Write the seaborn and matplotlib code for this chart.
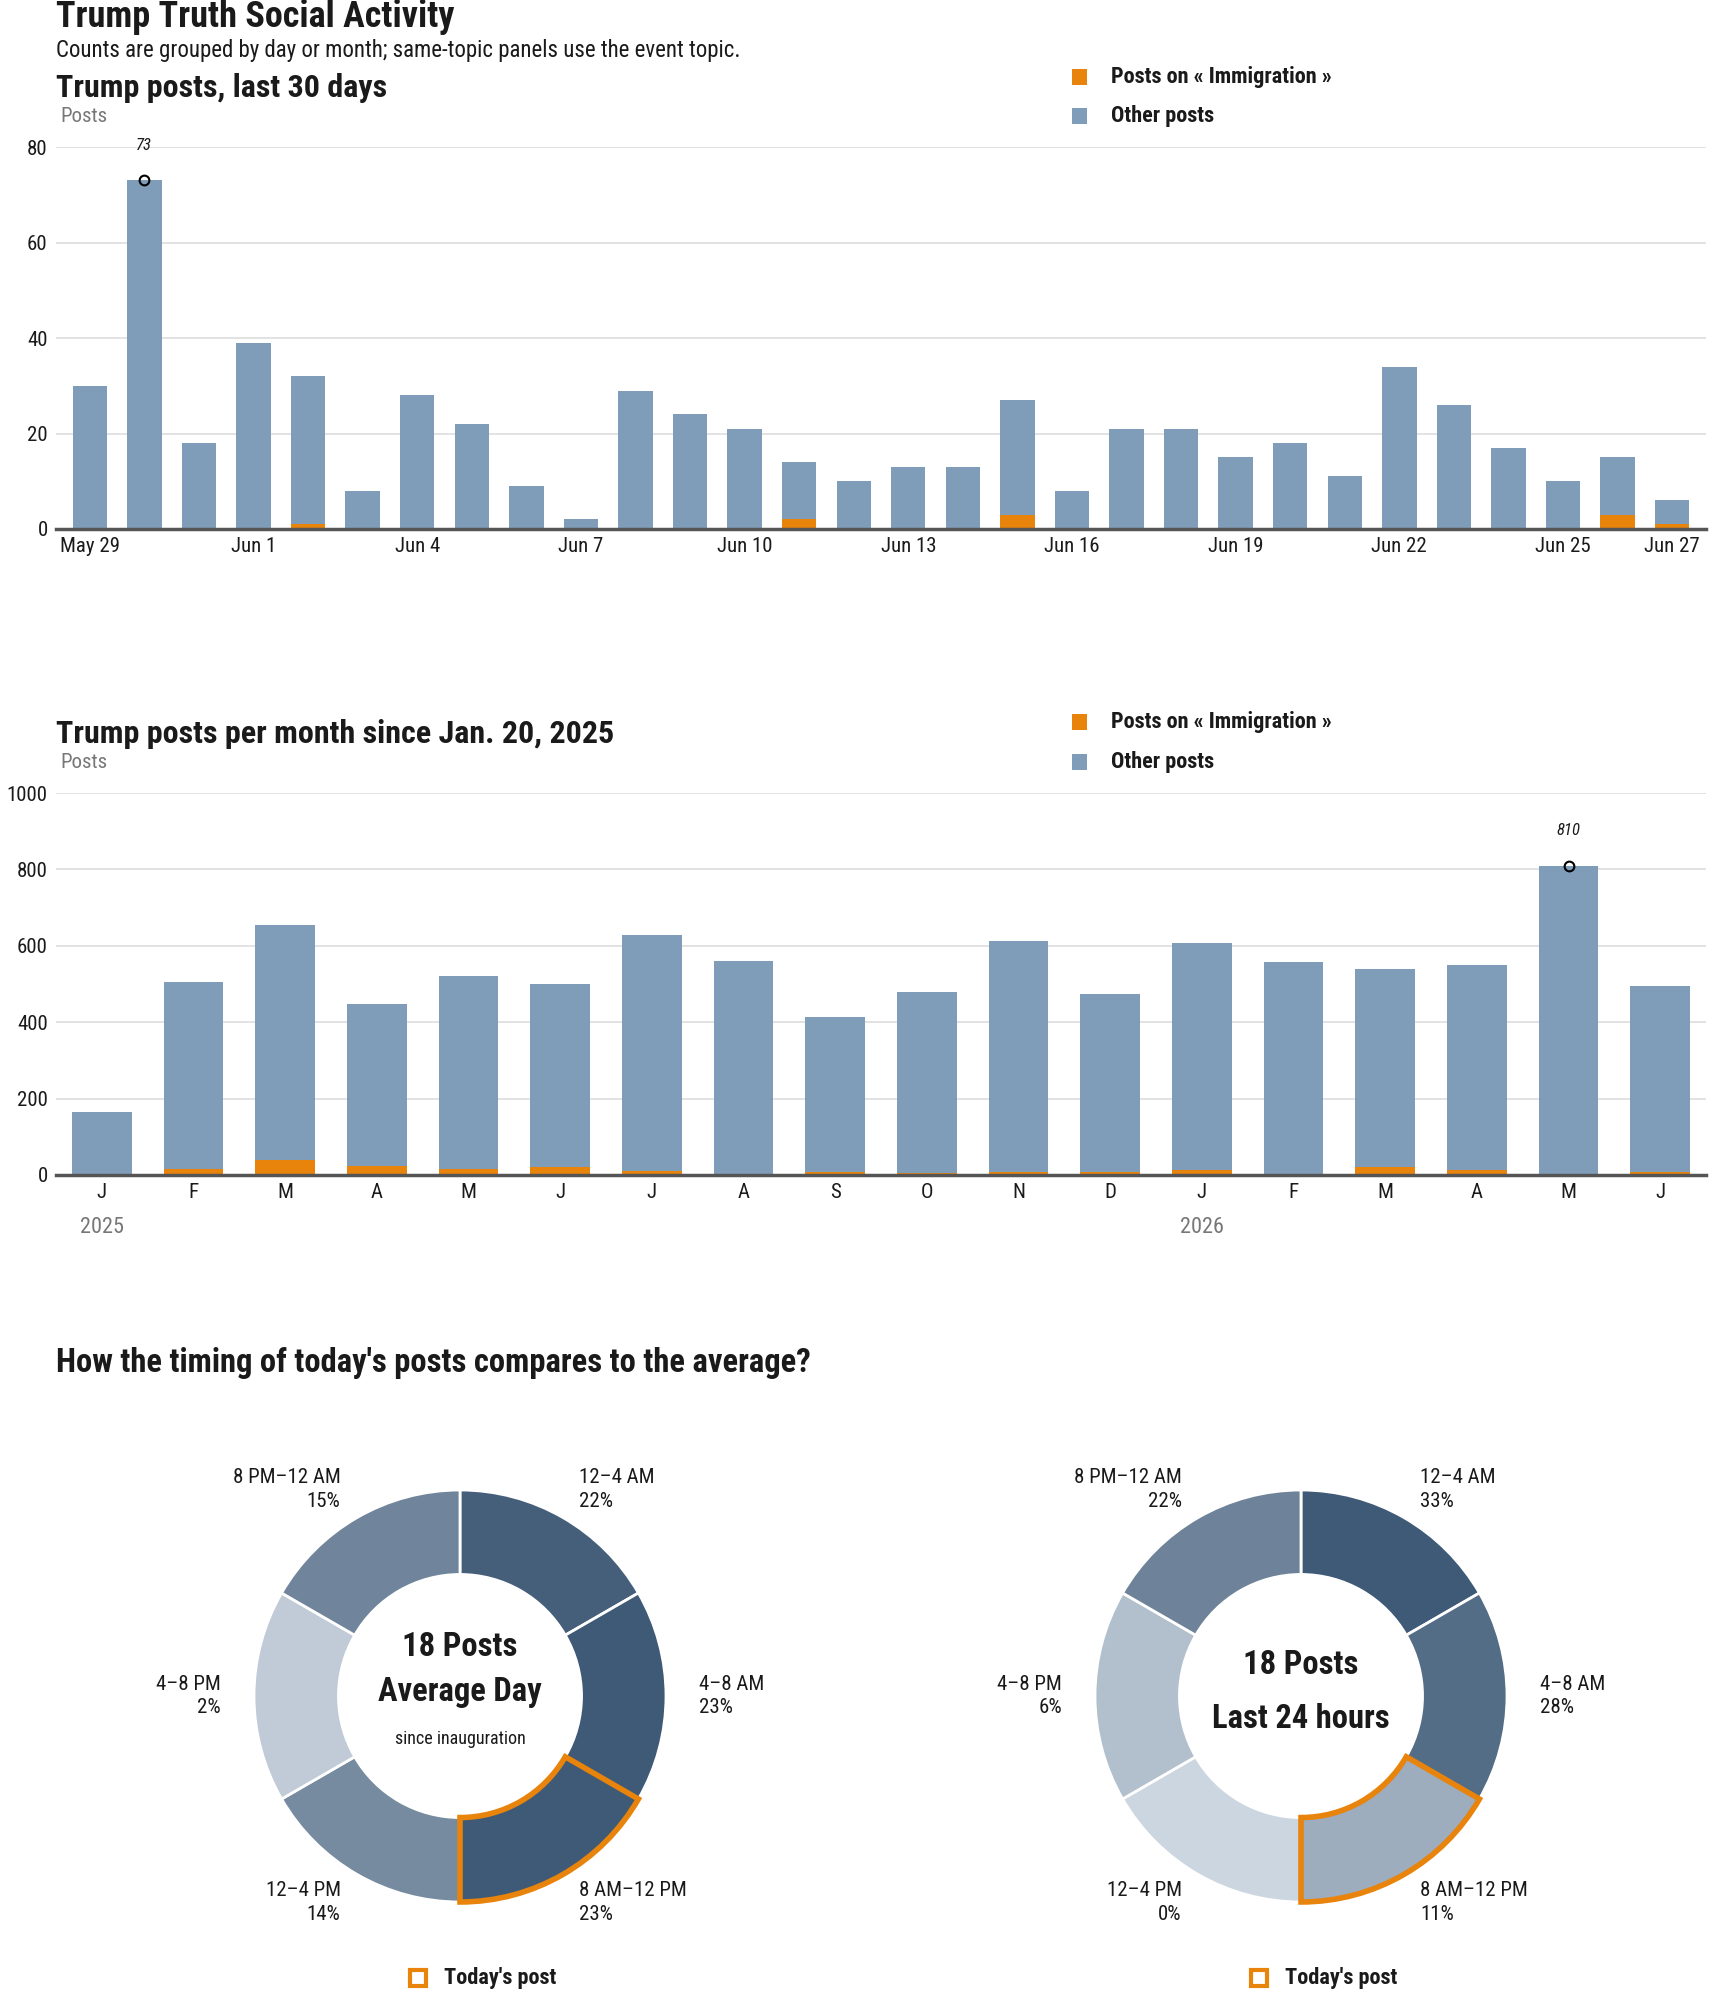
import numpy as np
import pandas as pd
import matplotlib
matplotlib.use("Agg")
import matplotlib.pyplot as plt
import seaborn as sns
from matplotlib.patches import Rectangle

# ---- data -------------------------------------------------------------
day_labels = ["May 29", "May 30", "May 31", "Jun 1", "Jun 2", "Jun 3", "Jun 4", "Jun 5",
              "Jun 6", "Jun 7", "Jun 8", "Jun 9", "Jun 10", "Jun 11", "Jun 12", "Jun 13",
              "Jun 14", "Jun 15", "Jun 16", "Jun 17", "Jun 18", "Jun 19", "Jun 20", "Jun 21",
              "Jun 22", "Jun 23", "Jun 24", "Jun 25", "Jun 26", "Jun 27"]
day_total = [30, 73, 18, 39, 32, 8, 28, 22, 9, 2, 29, 24, 21, 14, 10, 13, 13, 27, 8, 21,
             21, 15, 18, 11, 34, 26, 17, 10, 15, 6]
day_topic = [0, 0, 0, 0, 1, 0, 0, 0, 0, 0, 0, 0, 0, 2, 0, 0, 0, 3, 0, 0,
             0, 0, 0, 0, 0, 0, 0, 0, 3, 1]
day_ticks = [0, 3, 6, 9, 12, 15, 18, 21, 24, 27, 29]

month_labels = ["J", "F", "M", "A", "M", "J", "J", "A", "S", "O", "N", "D",
                "J", "F", "M", "A", "M", "J"]
month_total = [166, 505, 655, 447, 521, 499, 628, 560, 413, 478, 612, 473,
               607, 557, 539, 550, 810, 495]
month_topic = [0, 16, 40, 24, 16, 20, 10, 3, 9, 5, 9, 9, 14, 3, 22, 14, 0, 9]
year_labels = {0: "2025", 12: "2026"}

slots = ["12–4 AM", "4–8 AM", "8 AM–12 PM", "12–4 PM", "4–8 PM", "8 PM–12 AM"]
avg_pct = [22, 23, 23, 14, 2, 15]
today_pct = [33, 28, 11, 0, 6, 22]
today_slot = 2

# ---- style ------------------------------------------------------------
W, H = 1710, 1993
BLUE = "#7f9db9"
ORANGE = "#e8830c"
INK = "#1a1a1a"
GREY = "#777777"
LIGHT = np.array([204, 214, 224]) / 255
DARK = np.array([63, 90, 118]) / 255
TICK = 15

sns.set_theme(style="white")
plt.rcParams["font.family"] = ["Roboto Condensed", "DejaVu Sans"]
plt.rcParams["font.stretch"] = "condensed"

fig = plt.figure(figsize=(W / 100, H / 100), dpi=100)


def box(left, top, right, bottom):
    return fig.add_axes([left / W, 1 - bottom / H, (right - left) / W, (bottom - top) / H])


def label(x, y, s, **kw):
    kw.setdefault("va", "center")
    kw.setdefault("color", INK)
    fig.text(x / W, 1 - y / H, s, **kw)


def square(x, y, w, h, **kw):
    fig.add_artist(Rectangle((x / W, 1 - (y + h) / H), w / W, h / H,
                             transform=fig.transFigure, **kw))


def legend(y1, y2):
    square(1072, y1 - 8, 15, 16, color=ORANGE, lw=0)
    square(1072, y2 - 8, 15, 16, color=BLUE, lw=0)
    label(1111, y1, "Posts on « Immigration »", fontsize=16, fontweight="heavy")
    label(1111, y2, "Other posts", fontsize=16, fontweight="heavy")


def stacked_bars(ax, labels, total, topic, ymax, step, width, ticks, pad):
    df = pd.DataFrame({"i": range(len(total)), "total": total, "topic": topic})
    sns.barplot(data=df, x="i", y="total", color=BLUE, width=width, saturation=1,
                errorbar=None, linewidth=0, ax=ax)
    sns.barplot(data=df, x="i", y="topic", color=ORANGE, width=width, saturation=1,
                errorbar=None, linewidth=0, ax=ax)
    ax.set_xlim(-pad, len(total) - 1 + pad)
    ax.set_ylim(0, ymax)
    ax.set_yticks(range(0, ymax + 1, step))
    ax.set_xticks(ticks)
    ax.set_xticklabels([labels[i] for i in ticks])
    ax.set_xlabel("")
    ax.set_ylabel("")
    ax.grid(axis="y", color="#dddddd", lw=1.2)
    ax.set_axisbelow(True)
    for side in ["left", "right", "top"]:
        ax.spines[side].set_visible(False)
    ax.spines["bottom"].set_color("#555555")
    ax.spines["bottom"].set_linewidth(2.5)
    ax.tick_params(length=0, labelsize=TICK, labelcolor=INK, pad=6)
    peak = int(np.argmax(total))
    ax.plot(peak, total[peak], "o", mfc="none", mec="black", ms=7, mew=1.5,
            clip_on=False, zorder=5)
    ax.annotate(str(total[peak]), (peak, total[peak]), xytext=(0, 25),
                textcoords="offset points", ha="center", va="center",
                fontsize=12, fontstyle="italic", color=INK)


def shade(frac):
    return tuple(LIGHT + (DARK - LIGHT) * frac)


def donut(cx, cy, pcts, centre_lines):
    r = 206
    size = r * 2.5
    ax = box(cx - size / 2, cy - size / 2, cx + size / 2, cy + size / 2)
    colors = [shade(p / max(pcts)) for p in pcts]
    wedges, _ = ax.pie([1] * len(pcts), colors=colors, startangle=90, counterclock=False,
                       wedgeprops=dict(width=0.41, edgecolor="white", linewidth=2))
    hl = wedges[today_slot]
    hl.set_edgecolor(ORANGE)
    hl.set_linewidth(4)
    hl.set_joinstyle("miter")
    hl.set_zorder(5)
    ax.set_xlim(-1.25, 1.25)
    ax.set_ylim(-1.25, 1.25)
    for i, (name, p) in enumerate(zip(slots, pcts)):
        ang = np.deg2rad(60 - 60 * i)
        x, y = 1.16 * np.cos(ang), 1.16 * np.sin(ang)
        ha = "left" if x > 0 else "right"
        ax.text(x, y + 0.058, name, ha=ha, va="center", fontsize=TICK, color=INK)
        ax.text(x, y - 0.058, f"{p}%", ha=ha, va="center", fontsize=TICK, color=INK)
    for y, s, fs, fw in centre_lines:
        ax.text(0, y, s, ha="center", va="center", fontsize=fs, fontweight=fw, color=INK)


# ---- header -----------------------------------------------------------
label(56, 17, "Trump Truth Social Activity", fontsize=26, fontweight="heavy")
label(56, 51, "Counts are grouped by day or month; same-topic panels use the event topic.",
      fontsize=16.5)

# ---- last 30 days -----------------------------------------------------
label(56, 88, "Trump posts, last 30 days", fontsize=23, fontweight="heavy")
label(60, 116, "Posts", fontsize=15, color=GREY)
legend(77, 116)
ax1 = box(56, 147, 1706, 529)
stacked_bars(ax1, day_labels, day_total, day_topic, 80, 20, 0.63, day_ticks, 0.62)

# ---- per month --------------------------------------------------------
label(56, 734, "Trump posts per month since Jan. 20, 2025", fontsize=23, fontweight="heavy")
label(60, 762, "Posts", fontsize=15, color=GREY)
legend(722, 762)
ax2 = box(56, 793, 1706, 1175)
stacked_bars(ax2, month_labels, month_total, month_topic, 1000, 200, 0.65,
             list(range(len(month_total))), 0.5)
for i, yr in year_labels.items():
    ax2.annotate(yr, (i, 0), xytext=(0, -38), textcoords="offset points",
                 ha="center", va="center", fontsize=16, color=GREY)

# ---- timing donuts ----------------------------------------------------
label(56, 1363, "How the timing of today's posts compares to the average?",
      fontsize=23.5, fontweight="heavy")
donut(460, 1696, avg_pct, [(0.24, "18 Posts", 23.5, "heavy"),
                           (0.02, "Average Day", 23.5, "heavy"),
                           (-0.21, "since inauguration", 13, "normal")])
donut(1301, 1696, today_pct, [(0.15, "18 Posts", 23.5, "heavy"),
                              (-0.11, "Last 24 hours", 23.5, "heavy")])
for sx, tx in [(410, 444), (1251, 1285)]:
    square(sx, 1970, 16, 16, fill=False, ec=ORANGE, lw=3)
    label(tx, 1978, "Today's post", fontsize=16, fontweight="heavy")

fig.savefig("out.png", dpi=100)
